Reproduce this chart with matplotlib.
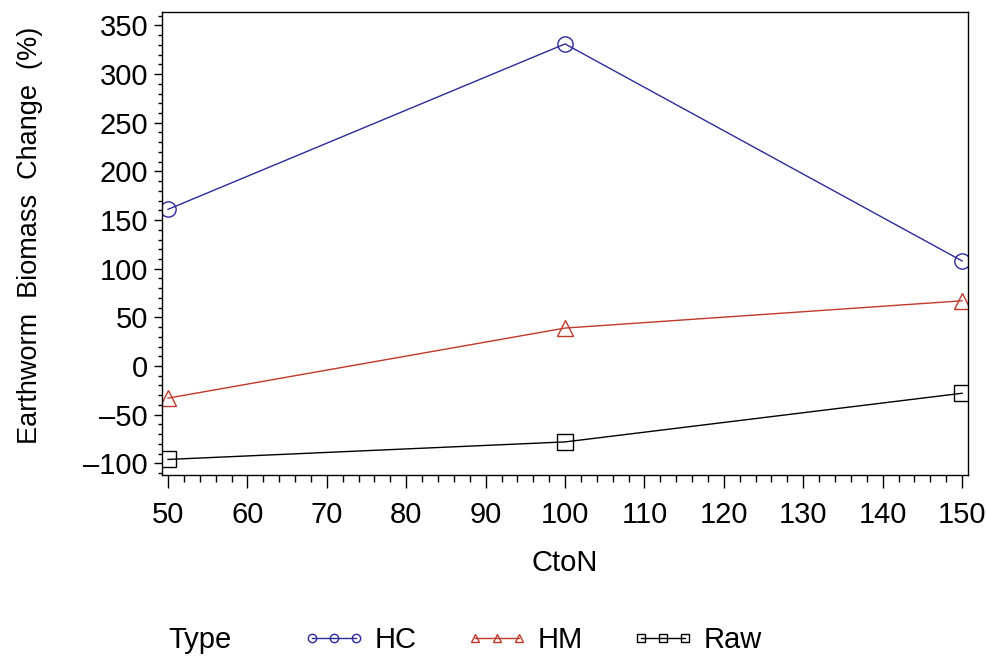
import matplotlib
matplotlib.use("Agg")
import matplotlib.pyplot as plt
from matplotlib.ticker import MultipleLocator, FuncFormatter
from matplotlib.lines import Line2D

plt.rcParams['font.family'] = ['Liberation Sans', 'DejaVu Sans']

cton = [50, 100, 150]
hc = [161, 331, 108]
hm = [-33, 39, 67]
raw = [-96, -78, -28]
series_names = ["HC", "HM", "Raw"]
x_ticks = [50, 60, 70, 80, 90, 100, 110, 120, 130, 140, 150]
y_ticks = [-100, -50, 0, 50, 100, 150, 200, 250, 300, 350]

colors = ["#2b2b9a", "#c0392b", "#000000"]
markers = ["o", "^", "s"]

fig = plt.figure(figsize=(9.86, 6.6), dpi=100)
ax = fig.add_axes([162/986, 1-475/660, (968-162)/986, (475-12)/660])

for vals, name, c, m in zip([hc, hm, raw], series_names, colors, markers):
    ax.plot(cton, vals, color=c, lw=1.0, marker=m, markersize=11,
            markerfacecolor='none', markeredgecolor=c, markeredgewidth=1.0,
            label=name, clip_on=True)

ax.set_xlim(49.24, 150.75)
ax.set_ylim(-112, 363.8)
ax.set_xticks(x_ticks)
ax.set_yticks(y_ticks)
ax.xaxis.set_minor_locator(MultipleLocator(2))
ax.yaxis.set_minor_locator(MultipleLocator(10))

def fmt(v, pos):
    v = int(round(v))
    return ("\u2013" + str(-v)) if v < 0 else str(v)
ax.yaxis.set_major_formatter(FuncFormatter(fmt))

ax.tick_params(axis='y', which='major', direction='out', length=6, width=1, labelsize=21, pad=4)
ax.tick_params(axis='y', which='minor', direction='out', length=3, width=1)
ax.tick_params(axis='x', which='major', direction='out', length=9, width=1, labelsize=21, pad=10)
ax.tick_params(axis='x', which='minor', direction='out', length=5, width=1)
for s in ax.spines.values():
    s.set_linewidth(1.0)

ax.set_xlabel("CtoN", fontsize=21, labelpad=14)
fig.text(30/986, 1-235/660, "Earthworm  Biomass  Change  (%)", rotation=90,
         fontsize=19.5, ha='center', va='center')

fig.text(200/986, 1-640/660, "Type", fontsize=21, ha='center', va='center')
handles = [Line2D([0], [0], color=c, lw=1.0, marker=m, markersize=6,
                  markerfacecolor='none', markeredgecolor=c, markeredgewidth=1.0)
           for c, m in zip(colors, markers)]
fig.legend(handles, series_names, loc='center left', bbox_to_anchor=(303/986, 1-640/660),
           ncol=3, frameon=False, fontsize=21, numpoints=3, handlelength=2.1,
           handletextpad=0.35, columnspacing=1.7, borderpad=0, borderaxespad=0)

fig.savefig("out.png", dpi=100)
